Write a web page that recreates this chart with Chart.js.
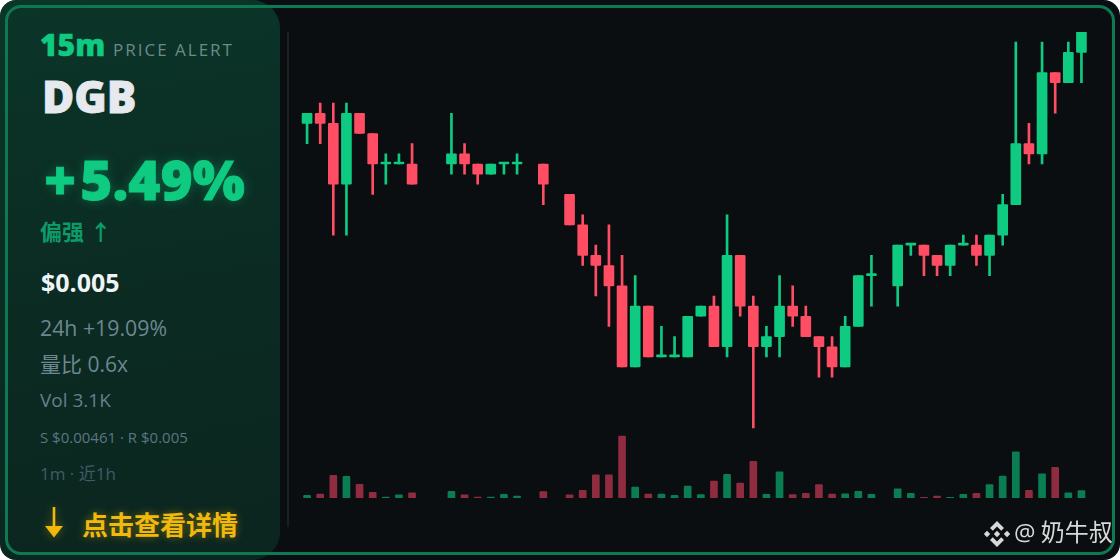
<!DOCTYPE html>
<html lang="zh"><head><meta charset="utf-8">
<script src="https://cdn.jsdelivr.net/npm/chart.js@4"></script>
<style>
html,body{margin:0;padding:0;background:#fff;width:1120px;height:560px;overflow:hidden}
#card{position:absolute;left:0;top:0;width:1120px;height:560px;border-radius:16px;background:#0a0e12;overflow:hidden}
#ring{position:absolute;left:5px;top:5px;width:1110px;height:550px;box-sizing:border-box;border:3px solid #0c7a52;border-radius:16px;background:#0a0e11}
#panel{position:absolute;left:0;top:0;width:280px;height:560px;border-radius:0 28px 28px 0;background:linear-gradient(170deg,rgba(14,120,80,.37),rgba(14,120,80,.27) 55%,rgba(14,120,80,.22))}
#sep{position:absolute;left:287px;top:32px;width:2px;height:495px;background:rgba(255,255,255,.08)}
#wrap{position:absolute;left:288px;top:32px;width:800px;height:495px}
.t{position:absolute;white-space:nowrap;font-family:"Open Sans","Noto Sans CJK SC",sans-serif;line-height:1}
.h{font-family:"Noto Sans","Noto Sans CJK SC",sans-serif;font-weight:900}
#wm{position:absolute;left:983px;top:520px}
#ar{position:absolute;left:44px;top:505px;filter:drop-shadow(0 0 5px rgba(240,185,11,.4))}
</style></head><body>
<div id="card">
<div id="ring"></div>
<div id="panel"></div>
<div id="sep"></div>
<div id="wrap"><canvas id="c" width="800" height="495"></canvas></div>
<div class="t h" style="left:40px;top:30px;font-size:30px;color:#0ecb81;-webkit-text-stroke:.5px #0ecb81">15m</div>
<div class="t" style="left:113px;top:41px;font-size:17px;letter-spacing:2px;color:#6b8a8a">PRICE ALERT</div>
<div class="t h" style="left:42px;top:74px;font-size:44px;color:#e6eaee;-webkit-text-stroke:.8px #e6eaee">DGB</div>
<div class="t h" style="left:44px;top:151px;font-size:55px;color:#0ecb81;-webkit-text-stroke:.8px #0ecb81;text-shadow:0 0 12px rgba(14,203,129,.35)"><span style="margin-right:4px">+</span>5.49%</div>
<div class="t" style="left:40px;top:220px;font-size:22px;font-weight:700;color:#0c9a68">偏强 ↑</div>
<div class="t" style="left:41px;top:270px;font-size:25px;font-weight:700;color:#f0f4f6">$0.005</div>
<div class="t" style="left:40px;top:317px;font-size:21.300px;color:#6d8791">24h +19.09%</div>
<div class="t" style="left:40px;top:354px;font-size:21px;color:#6d8791">量比 0.6x</div>
<div class="t" style="left:40px;top:391px;font-size:19px;color:#64808c">Vol 3.1K</div>
<div class="t" style="left:40px;top:430px;font-size:15px;color:#5a7682">S $0.00461 · R $0.005</div>
<div class="t" style="left:40px;top:465px;font-size:17px;color:#3f5c66">1m · 近1h</div>
<svg id="ar" width="20" height="34" viewBox="0 0 20 34"><path d="M8.7 2h2.6v19h7.7l-9 11.500-9-11.500h7.700z" fill="#f0b90b"/></svg>
<div class="t" style="left:82px;top:512px;font-size:26px;font-weight:700;color:#f0b90b;text-shadow:0 0 8px rgba(240,185,11,.45)">点击查看详情</div>
<svg id="wm" width="28" height="28" viewBox="0 0 28 28"><g fill="#d8d8d8"><path d="M14 1l7 7-2.800 2.800L14 6.600 9.800 10.800 7 8z"/><path d="M4 10.800L7.200 14 4 17.200 .8 14z"/><path d="M24 10.800L27.200 14 24 17.200 20.800 14z"/><path d="M14 10.800L17.200 14 14 17.200 10.800 14z"/><path d="M14 27l-7-7 2.800-2.800 4.200 4.200 4.200-4.200L21 20z"/></g></svg>
<div class="t" style="left:1014px;top:520px;font-size:24px;word-spacing:-1px;color:#d8d8d8">@ 奶牛叔</div>
</div>
<script>
const opens=[0.00491,0.00492,0.00491,0.00485,0.00492,0.00490,0.00487,0.00487,0.00487,null,null,0.00487,0.00488,0.00487,0.00486,0.00487,0.00487,null,0.00487,null,0.00484,0.00481,0.00478,0.00477,0.00475,0.00467,0.00473,0.00468,0.00468,0.00468,0.00472,0.00473,0.00469,0.00478,0.00473,0.00469,0.00470,0.00473,0.00472,0.00470,0.00469,0.00467,0.00471,0.00476,null,0.00475,0.00479,0.00479,0.00478,0.00477,0.00479,0.00479,0.00478,0.00480,0.00483,0.00489,0.00488,0.00496,0.00495,0.00498];
const closes=[0.00492,0.00491,0.00485,0.00492,0.00490,0.00487,0.00487,0.00487,0.00485,null,null,0.00488,0.00487,0.00486,0.00487,0.00487,0.00487,null,0.00485,null,0.00481,0.00478,0.00477,0.00475,0.00467,0.00473,0.00468,0.00468,0.00468,0.00472,0.00473,0.00469,0.00478,0.00473,0.00469,0.00470,0.00473,0.00472,0.00470,0.00469,0.00467,0.00471,0.00476,0.00476,null,0.00479,0.00479,0.00478,0.00477,0.00479,0.00479,0.00478,0.00480,0.00483,0.00489,0.00488,0.00496,0.00495,0.00498,0.00500];
const highs=[0.00492,0.00493,0.00493,0.00493,0.00492,0.00490,0.00488,0.00488,0.00489,null,null,0.00492,0.00489,0.00487,0.00487,0.00487,0.00488,null,0.00487,null,0.00484,0.00482,0.00479,0.00481,0.00478,0.00476,0.00473,0.00471,0.00470,0.00472,0.00473,0.00474,0.00482,0.00478,0.00474,0.00471,0.00476,0.00475,0.00473,0.00470,0.00470,0.00472,0.00476,0.00478,null,0.00479,0.00479,0.00479,0.00478,0.00479,0.00480,0.00480,0.00480,0.00484,0.00499,0.00491,0.00499,0.00496,0.00499,0.00500];
const lows=[0.00489,0.00489,0.00480,0.00480,0.00490,0.00484,0.00485,0.00487,0.00485,null,null,0.00486,0.00486,0.00485,0.00486,0.00486,0.00486,null,0.00483,null,0.00481,0.00477,0.00474,0.00471,0.00467,0.00467,0.00468,0.00468,0.00468,0.00468,0.00472,0.00469,0.00468,0.00472,0.00461,0.00468,0.00468,0.00471,0.00470,0.00466,0.00466,0.00467,0.00471,0.00473,null,0.00473,0.00478,0.00476,0.00476,0.00476,0.00479,0.00477,0.00476,0.00479,0.00483,0.00487,0.00487,0.00492,0.00495,0.00495];
const volumes=[1.1,1.7,9.5,9.1,5.7,2.4,0.4,1.3,2.2,null,null,2.8,1.3,0.4,0.4,1.5,0.8,null,2.7,null,1.3,3.2,9.7,9.7,26,4.6,1.7,1.7,1.1,5,1.4,7.1,10,6.3,15.4,1.5,11,1.4,2,5.6,1.7,1.8,2.8,1.5,null,3.9,2,0.3,0.8,0.3,1.5,2,5.6,9.2,19.4,3.2,10.2,12.9,2.2,3.1];
const categories=opens.map((_,i)=>String(i+1));
const GREEN='#0ecb81',RED='#ff4d63',GREEN_DIM='#0b7d53',RED_DIM='#8f2c3f';
const isUp=i=>closes[i]>=opens[i];
const pair=(a,b)=>a.map((v,i)=>v===null?null:[v,b[i]]);
new Chart(document.getElementById('c'),{
 type:'bar',
 data:{labels:categories,datasets:[
  {label:'Volume',yAxisID:'y1',data:volumes,barThickness:7,borderRadius:1,order:3,
   backgroundColor:categories.map((_,i)=>isUp(i)?GREEN_DIM:RED_DIM)},
  {label:'Range',yAxisID:'y',data:pair(lows,highs),barThickness:2,order:2,
   backgroundColor:categories.map((_,i)=>isUp(i)?GREEN:RED)},
  {label:'Body',yAxisID:'y',data:pair(opens,closes),barThickness:10,minBarLength:2,borderRadius:1,borderSkipped:false,order:1,
   backgroundColor:categories.map((_,i)=>isUp(i)?GREEN:RED)}
 ]},
 options:{responsive:false,animation:false,devicePixelRatio:1,
  layout:{padding:{left:12.5,right:0,top:0,bottom:29}},
  plugins:{legend:{display:false},tooltip:{enabled:false}},
  datasets:{bar:{grouped:false}},
  scales:{
   x:{display:false,grid:{display:false}},
   y:{display:false,min:0.004541,max:0.005,grid:{display:false}},
   y1:{display:false,min:0,max:196,grid:{display:false}}
  }}
});
</script>
</body></html>
